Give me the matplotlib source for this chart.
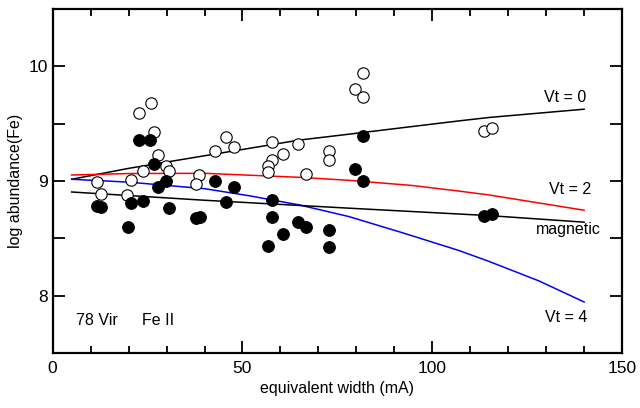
import numpy as np
import matplotlib
matplotlib.use("Agg")
import matplotlib.pyplot as plt
from matplotlib.ticker import MultipleLocator

plt.rcParams['font.family'] = ['Liberation Sans', 'DejaVu Sans']

# open circles (Fe II lines, non-magnetic fit)
open_x = [25.8, 22.7, 26.7, 27.7, 29.8, 30.7, 23.7, 20.7, 11.75, 12.8, 19.7, 38.6, 37.8,
          45.7, 42.7, 47.7, 57.7, 60.7, 64.6, 72.7, 72.7, 57.7, 56.7, 56.7, 66.7,
          81.7, 79.7, 81.7, 113.7, 115.8]
open_y = [9.684, 9.594, 9.426, 9.226, 9.130, 9.090, 9.090, 9.009, 8.989, 8.884, 8.876, 9.049, 8.974,
          9.385, 9.264, 9.296, 9.336, 9.238, 9.319, 9.264, 9.183, 9.183, 9.133, 9.076, 9.064,
          9.945, 9.806, 9.733, 9.438, 9.464]

# filled circles (magnetic)
fill_x = [22.7, 25.7, 26.7, 29.8, 27.8, 11.75, 12.8, 20.7, 23.8, 30.7, 19.8, 37.8, 38.8,
          42.7, 47.7, 45.7, 57.7, 57.7, 64.6, 66.7, 60.7, 72.7, 72.7, 56.7,
          81.7, 79.7, 81.7, 113.5, 115.8]
fill_y = [9.354, 9.354, 9.148, 9.003, 8.945, 8.783, 8.771, 8.806, 8.826, 8.768, 8.597, 8.678, 8.690,
          9.000, 8.945, 8.815, 8.835, 8.687, 8.646, 8.597, 8.542, 8.574, 8.423, 8.437,
          9.394, 9.107, 9.003, 8.696, 8.716]

# model curves
vt0_x = [5, 20, 40, 65, 76, 107, 115, 140]
vt0_y = [9.015, 9.11, 9.22, 9.357, 9.40, 9.524, 9.554, 9.626]
vt2_x = [5, 20, 40, 65, 78, 95, 107, 115, 140]
vt2_y = [9.052, 9.065, 9.067, 9.032, 9.006, 8.96, 8.912, 8.878, 8.745]
vt4_x = [5, 20, 40, 52, 65, 78, 92, 107, 115, 128, 140]
vt4_y = [9.015, 8.99, 8.933, 8.87, 8.791, 8.69, 8.55, 8.394, 8.298, 8.13, 7.945]
mag_x = [5, 40, 78, 115, 140]
mag_y = [8.904, 8.832, 8.763, 8.698, 8.641]

fig = plt.figure(figsize=(6.4, 4.08), dpi=100)
ax = fig.add_axes([0.0823, 0.1348, 0.8897, 0.8432])

ax.plot(vt0_x, vt0_y, color='black', lw=1.1)
ax.plot(vt2_x, vt2_y, color='red', lw=1.1)
ax.plot(vt4_x, vt4_y, color='blue', lw=1.1)
ax.plot(mag_x, mag_y, color='black', lw=1.1)

ax.plot(open_x, open_y, 'o', ms=8.2, mfc='white', mec='black', mew=0.8, ls='none')
ax.plot(fill_x, fill_y, 'o', ms=8.4, mfc='black', mec='black', mew=0.8, ls='none')

fs = 11.5
ax.text(135, 9.73, 'Vt = 0', ha='center', va='center', fontsize=fs)
ax.text(136.3, 8.93, 'Vt = 2', ha='center', va='center', fontsize=fs)
ax.text(135.8, 8.58, 'magnetic', ha='center', va='center', fontsize=fs)
ax.text(135.2, 7.81, 'Vt = 4', ha='center', va='center', fontsize=fs)
ax.text(6.1, 7.78, '78 Vir', ha='left', va='center', fontsize=fs)
ax.text(23.5, 7.78, 'Fe II', ha='left', va='center', fontsize=fs)

ax.set_xlim(0, 150)
ax.set_ylim(7.5, 10.5)
ax.xaxis.set_major_locator(MultipleLocator(50))
ax.xaxis.set_minor_locator(MultipleLocator(10))
ax.yaxis.set_major_locator(MultipleLocator(1))
ax.yaxis.set_minor_locator(MultipleLocator(0.5))
ax.tick_params(which='both', direction='in', top=True, right=True, width=1.3, labelsize=12.5)
ax.tick_params(axis='x', which='major', length=8.5, pad=6)
ax.tick_params(axis='x', which='minor', length=5)
ax.tick_params(axis='y', which='both', length=8.5)
for s in ax.spines.values():
    s.set_linewidth(1.6)

ax.set_xlabel('equivalent width (mA)', fontsize=11.5, labelpad=3)
ax.set_ylabel('log abundance(Fe)', fontsize=11.5, labelpad=4)

fig.savefig('out.png', dpi=100)
